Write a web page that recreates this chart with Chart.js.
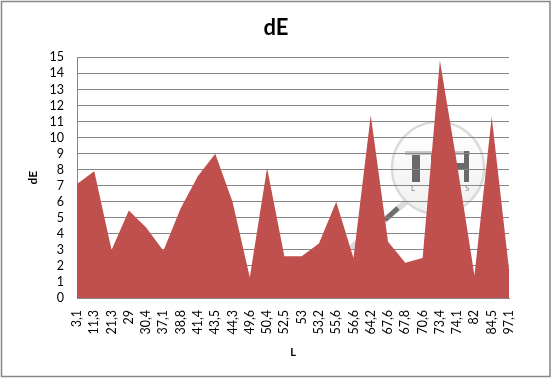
<!DOCTYPE html>
<html>
<head>
<meta charset="utf-8">
<title>dE</title>
<script src="https://cdn.jsdelivr.net/npm/chart.js@4"></script>
<style>
    html, body { margin: 0; padding: 0; background: #fff; }
    canvas { display: block; }
</style>
</head>
<body>
<canvas id="de-chart" width="552" height="378"></canvas>
<script>
const categories = ['3,1', '11,3', '21,3', '29', '30,4', '37,1', '38,8', '41,4', '43,5', '44,3', '49,6', '50,4', '52,5',
    '53', '53,2', '55,6', '56,6', '64,2', '67,6', '67,8', '70,6', '73,4', '74,1', '82', '84,5', '97,1'];
const deValues = [7.1, 7.9, 3.0, 5.45, 4.4, 2.95, 5.6, 7.6, 9.0, 6.0, 1.3, 8.1, 2.6,
    2.6, 3.4, 6.0, 2.5, 11.4, 3.5, 2.2, 2.5, 14.8, 8.3, 1.4, 11.3, 1.8];

const FONT = 'Lato, Carlito, Calibri, sans-serif';
const GRID = '#868686';

// White page, outer frame and the magnifier watermark behind the plot
const backdrop = {
    id: 'backdrop',
    beforeDraw: function(chart) {
        const ctx = chart.ctx;

        // title is centred on the whole frame, not on the plot side of the padding
        chart.titleBlock.right = 552;

        ctx.save();
        ctx.fillStyle = '#fff';
        ctx.fillRect(0, 0, 552, 378);
        ctx.strokeStyle = GRID;
        ctx.lineWidth = 1.5;
        ctx.strokeRect(1.5, 1.5, 548.5, 375);

        // handle
        ctx.lineCap = 'round';
        ctx.strokeStyle = '#dcdcdc';
        ctx.lineWidth = 6;
        ctx.beginPath(); ctx.moveTo(406, 202); ctx.lineTo(353, 246); ctx.stroke();
        ctx.lineCap = 'butt';
        ctx.strokeStyle = '#6e6e6e';
        ctx.lineWidth = 5;
        ctx.beginPath(); ctx.moveTo(398, 208); ctx.lineTo(385, 220); ctx.stroke();

        // lens
        const lens = ctx.createLinearGradient(0, 122, 0, 214);
        lens.addColorStop(0, '#ffffff');
        lens.addColorStop(1, '#f0f0f0');
        ctx.fillStyle = lens;
        ctx.strokeStyle = '#dadada';
        ctx.lineWidth = 2.5;
        ctx.beginPath(); ctx.arc(438, 168, 46, 0, Math.PI * 2); ctx.fill(); ctx.stroke();

        // logo letters
        ctx.fillStyle = '#c8c8c8';
        ctx.fillRect(405, 151, 65, 4);
        ctx.fillStyle = '#6a6a6a';
        ctx.fillRect(412, 155, 8, 27);
        ctx.fillRect(431, 155, 6, 27);
        ctx.fillRect(448, 151, 5, 31);
        ctx.fillRect(464, 151, 5, 31);
        ctx.fillRect(448, 163, 21, 7);
        ctx.fillStyle = '#8a8a8a';
        ctx.font = '8px ' + FONT;
        ctx.textBaseline = 'middle';
        ctx.fillText('L', 411, 188);
        ctx.fillText('S', 465, 188);
        ctx.restore();
    }
};

const deChart = new Chart(document.getElementById('de-chart').getContext('2d'), {
    type: 'line',
    data: {
        labels: categories,
        datasets: [{
            label: 'dE',
            data: deValues,
            fill: 'origin',
            backgroundColor: '#C0504D',
            borderWidth: 0,
            pointRadius: 0,
            tension: 0
        }]
    },
    options: {
        responsive: false,
        animation: false,
        layout: { padding: { left: 0, right: 43, top: 0, bottom: 0 } },
        plugins: {
            legend: { display: false },
            tooltip: { enabled: false },
            title: {
                display: true,
                text: 'dE',
                color: '#000',
                font: { family: FONT, size: 22, weight: 'bold' },
                padding: { top: 15, bottom: 16 }
            }
        },
        scales: {
            x: {
                offset: false,
                grid: { display: false, drawTicks: false },
                border: { display: true, color: GRID, width: 1 },
                ticks: {
                    autoSkip: false,
                    minRotation: 90,
                    maxRotation: 90,
                    padding: 12,
                    color: '#000',
                    font: { family: FONT, size: 12.5 }
                },
                title: {
                    display: true,
                    text: 'L',
                    color: '#000',
                    font: { family: FONT, size: 11, weight: 'bold' },
                    padding: { top: 0, bottom: 19 }
                },
                afterFit: function(scale) { scale.height = 80; }
            },
            y: {
                min: 0,
                max: 15,
                grid: { color: GRID, lineWidth: 1, drawTicks: false },
                border: { display: true, color: GRID, width: 1 },
                ticks: {
                    autoSkip: false,
                    stepSize: 1,
                    padding: 13,
                    color: '#000',
                    font: { family: FONT, size: 12.5 }
                },
                title: {
                    display: true,
                    text: 'dE',
                    color: '#000',
                    font: { family: FONT, size: 12, weight: 'bold' },
                    padding: { top: 26, bottom: 0 }
                },
                afterFit: function(scale) { scale.width = 77; }
            }
        }
    },
    plugins: [backdrop]
});
</script>
</body>
</html>
